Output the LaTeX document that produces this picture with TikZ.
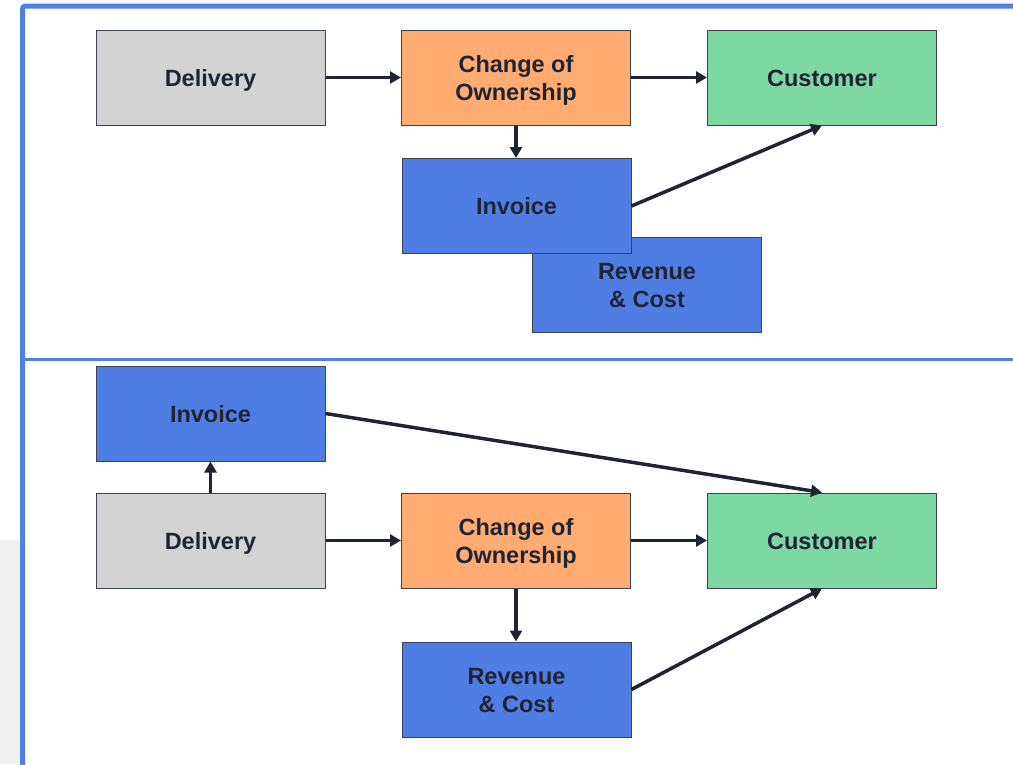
\documentclass[tikz,border=0pt]{standalone}
\usepackage{fontspec}
\setmainfont{Liberation Sans}
\usetikzlibrary{arrows.meta}
\definecolor{frameblue}{HTML}{5080E6}
\definecolor{panelgray}{HTML}{F1F1F1}
\definecolor{boxedge}{HTML}{3C4150}
\definecolor{inkdark}{HTML}{1F2433}
\definecolor{fillgray}{HTML}{D3D3D3}
\definecolor{fillorange}{HTML}{FFAB72}
\definecolor{fillgreen}{HTML}{7DD8A2}
\definecolor{fillblue}{HTML}{4F7DE3}
\tikzset{
  flowbox/.style={rectangle, draw=boxedge, line width=1pt, minimum width=229pt,
    minimum height=95pt, inner sep=0pt, align=center, text=inkdark,
    text height=17pt, text depth=0pt,
    font=\bfseries\fontsize{23.5}{28}\selectfont},
  twoline/.style={text height=45pt},
  graybox/.style={flowbox, fill=fillgray},
  orangebox/.style={flowbox, fill=fillorange},
  greenbox/.style={flowbox, fill=fillgreen},
  bluebox/.style={flowbox, fill=fillblue},
  flowarrow/.style={draw=inkdark, line width=3.5pt, -{Triangle[length=11pt,width=12pt]}}
}
\begin{document}
\begin{tikzpicture}[x=1pt,y=-1pt]
\useasboundingbox (0,0) rectangle (1013,764);
% side panel and frame
\fill[panelgray] (0,540) rectangle (20,764);
\draw[frameblue, line width=5pt, rounded corners=3pt] (22.5,766) -- (22.5,6) -- (1015,6);
\draw[frameblue, line width=3pt] (22.5,359.5) -- (1015,359.5);

% upper flow
\node[graybox] (d1) at (210.5,77.5) {Delivery};
\node[orangebox, twoline] (c1) at (516,77.5) {Change of\\Ownership};
\node[greenbox] (k1) at (822,77.5) {Customer};
\node[bluebox, twoline] (r1) at (647,284.5) {Revenue\\\& Cost};
\node[bluebox] (i1) at (516.5,206) {Invoice};

\draw[flowarrow] (d1.east) -- (c1.west);
\draw[flowarrow] (c1.east) -- (k1.west);
\draw[flowarrow] (c1.south) -- (c1.south |- i1.north);
\draw[flowarrow] (i1.east) -- (k1.south);

% lower flow
\node[bluebox] (i2) at (210.5,413.5) {Invoice};
\node[graybox] (d2) at (210.5,540.5) {Delivery};
\node[orangebox, twoline] (c2) at (516,540.5) {Change of\\Ownership};
\node[greenbox] (k2) at (822,540.5) {Customer};
\node[bluebox, twoline] (r2) at (516.5,689.5) {Revenue\\\& Cost};

\draw[flowarrow] (d2.north) -- (i2.south);
\draw[flowarrow] (i2.east) -- (k2.north);
\draw[flowarrow] (d2.east) -- (c2.west);
\draw[flowarrow] (c2.east) -- (k2.west);
\draw[flowarrow] (c2.south) -- (c2.south |- r2.north);
\draw[flowarrow] (r2.east) -- (k2.south);
\end{tikzpicture}
\end{document}
